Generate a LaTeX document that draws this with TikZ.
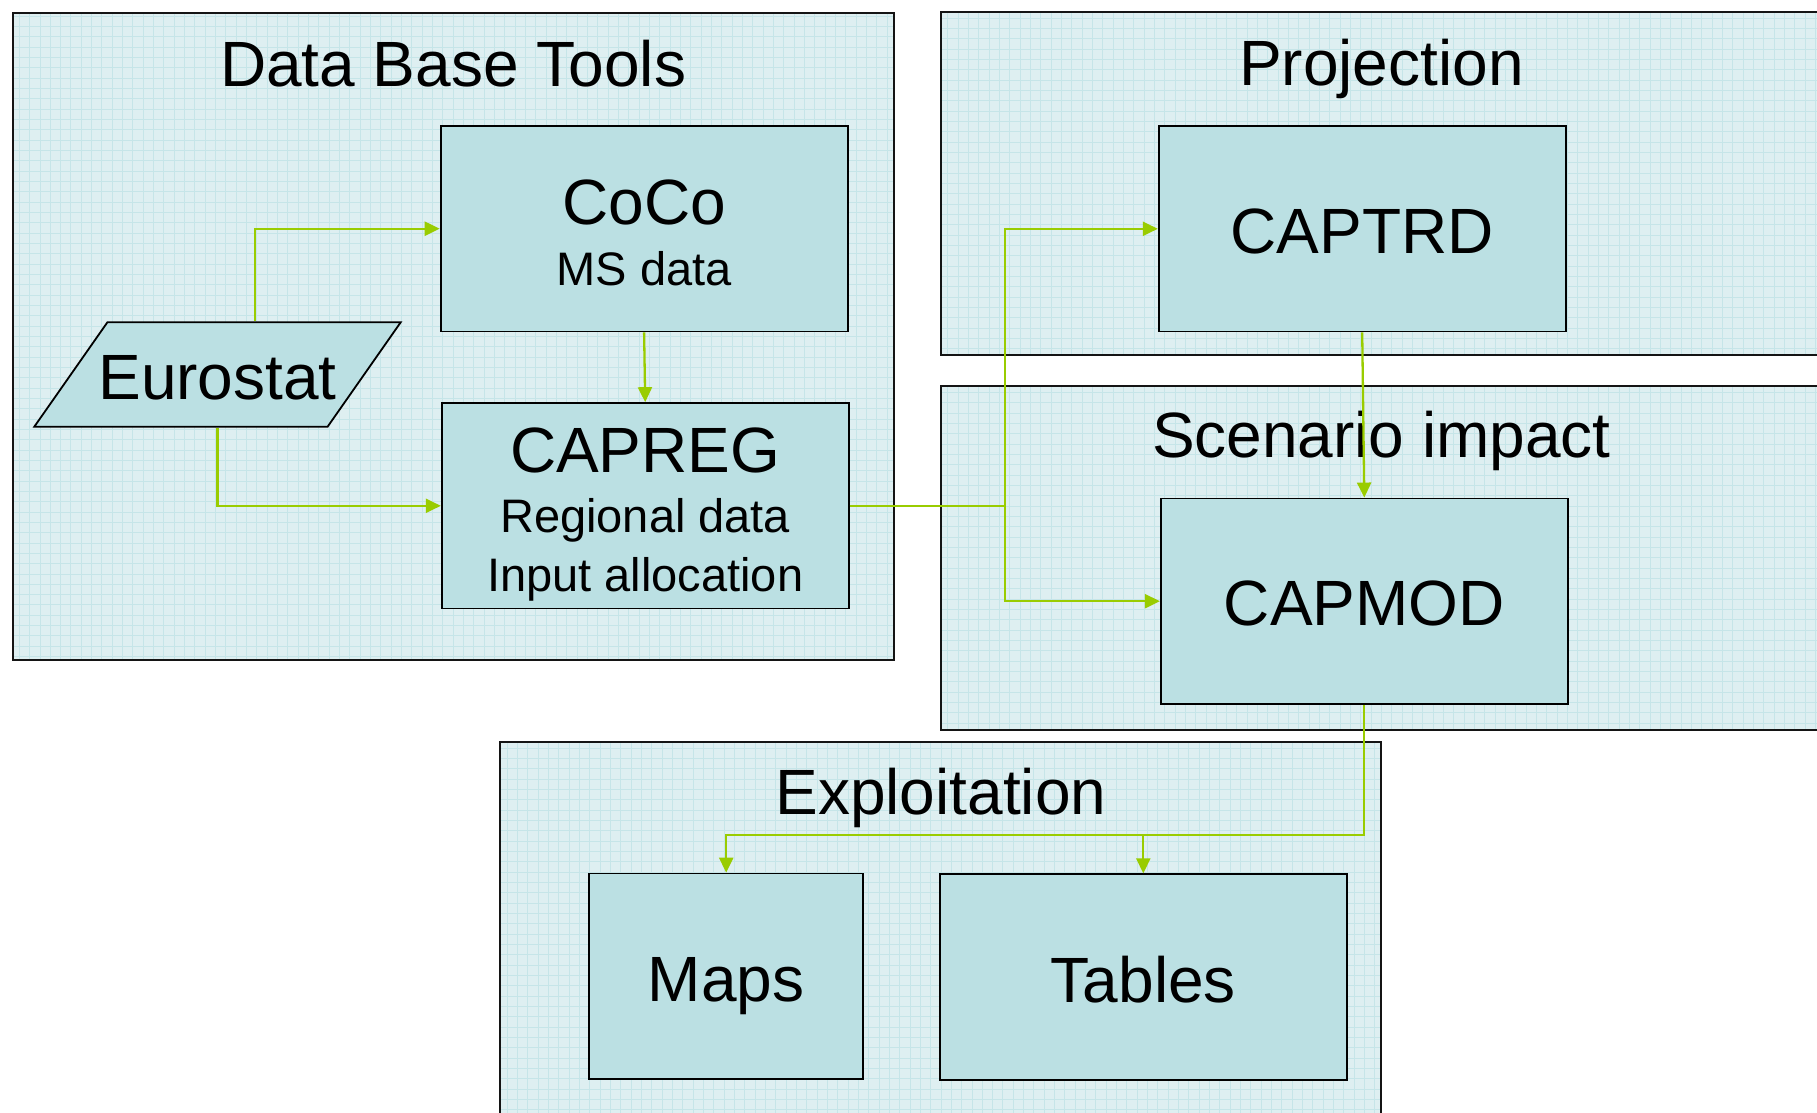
\documentclass[tikz,border=0pt]{standalone}
\usepackage{fontspec}
\setmainfont{Liberation Sans}
\usetikzlibrary{arrows.meta,calc,shapes.geometric}

\definecolor{panelfill}{HTML}{DEEFF1}
\definecolor{gridcol}{HTML}{C6E5E8}
\definecolor{boxfill}{HTML}{BBE0E3}
\definecolor{flow}{HTML}{99CC00}

\tikzset{
  panel/.style={rectangle, draw=black!92, line width=1.9pt, fill=panelfill,
    inner sep=0pt, anchor=north west, minimum width=881pt,
    path picture={\draw[gridcol, line width=0.7pt]
      (path picture bounding box.south west) grid[step=10.33pt]
      (path picture bounding box.north east);}},
  stage/.style={rectangle, draw=black, line width=1.8pt, fill=boxfill,
    inner sep=0pt, minimum height=205.5pt},
  title/.style={inner sep=0pt, anchor=base, font=\fontsize{64pt}{77pt}\selectfont},
  biglbl/.style={inner sep=0pt, anchor=base, font=\fontsize{64pt}{77pt}\selectfont},
  smalllbl/.style={inner sep=0pt, anchor=base, font=\fontsize{47pt}{56pt}\selectfont},
  flowline/.style={draw=flow, line width=2.3pt, line join=miter,
    -{Triangle[length=15pt,width=14pt]}},
}

\begin{document}
\begin{tikzpicture}[x=1pt, y=-1pt]
\useasboundingbox (0,0) rectangle (1817,1112);
\fill[white] (0,0) rectangle (1817,1112);
\clip (0,0) rectangle (1817,1112);

% group panels
\node[panel, minimum height=647.4pt] (dbt)  at (11.6,11.6) {};
\node[panel, minimum height=343pt]   (proj) at (940,11) {};
\node[panel, minimum height=344pt]   (scen) at (940,384.7) {};
\node[panel, minimum height=384pt]   (expl) at (499.4,741) {};

\node[title] (dbtT)  at ($(dbt.north)+(0,75)$)  {Data Base Tools};
\node[title] (projT) at ($(proj.north)+(0,74)$) {Projection};
\node[title] (scenT) at ($(scen.north)+(0,73)$) {Scenario impact};
\node[title] (explT) at ($(expl.north)+(0,73.6)$) {Exploitation};

% processing stages
\node[stage, minimum width=407pt] (coco)   at (644.1,228.7) {};
\node[stage, minimum width=407pt] (capreg) at (645.2,505.8) {};
\node[stage, minimum width=407pt] (captrd) at (1362.2,228.8) {};
\node[stage, minimum width=407pt] (capmod) at (1364.3,601.2) {};
\node[stage, minimum width=273.7pt] (maps)   at (726.2,976.3) {};
\node[stage, minimum width=406.7pt] (tables) at (1143.3,977) {};

% data source (parallelogram)
\node[trapezium, trapezium left angle=55, trapezium right angle=125,
  trapezium stretches body=true, draw=black, line width=1.8pt, fill=boxfill,
  inner xsep=0pt, inner ysep=52.2pt, minimum width=366.4pt,
  minimum height=104.4pt] (euro) at (217.5,374.5) {};

% labels
\node[biglbl]   (cocoA)   at ($(coco.center)+(0,-4.7)$)   {CoCo};
\node[smalllbl] (cocoB)   at ($(coco.center)+(0,56.6)$)   {MS data};
\node[biglbl]   (capregA) at ($(capreg.center)+(0,-33.5)$) {CAPREG};
\node[smalllbl] (capregB) at ($(capreg.center)+(0,26.9)$) {Regional data};
\node[smalllbl] (capregC) at ($(capreg.center)+(0,85.9)$) {Input allocation};
\node[biglbl]   (captrdA) at ($(captrd.center)+(0,25)$)   {CAPTRD};
\node[biglbl]   (capmodA) at ($(capmod.center)+(0,24.5)$) {CAPMOD};
\node[biglbl]   (mapsA)   at ($(maps.center)+(0,25.5)$)   {Maps};
\node[biglbl]   (tablesA) at ($(tables.center)+(0,25)$)   {Tables};
\node[biglbl]   (euroA)   at ($(euro.center)+(0,24.8)$)   {Eurostat};

% connectors
\coordinate (eurotop) at ($(euro.top left corner)!0.5!(euro.top right corner)$);
\coordinate (eurobot) at (euro.bottom left corner -| euro.center);
\coordinate (split) at ($(capreg.east)+(155.3,0)$);
\coordinate (fork)  at ($(capmod.south)+(0,130)$);

\draw[flowline] (eurotop) |- (coco.west);
\draw[flowline] (eurobot) |- (capreg.west);
\draw[flowline] (coco.south) -- (capreg.north);
\draw[flowline] (capreg.east) -- (split) |- (captrd.west);
\draw[flowline] (split) |- (capmod.west);
\draw[flowline] (captrd.south) -- (capmod.north);
\draw[flowline] (capmod.south) -- (fork) -| (maps.north);
\draw[flowline] (fork) -| (tables.north);
\end{tikzpicture}
\end{document}
